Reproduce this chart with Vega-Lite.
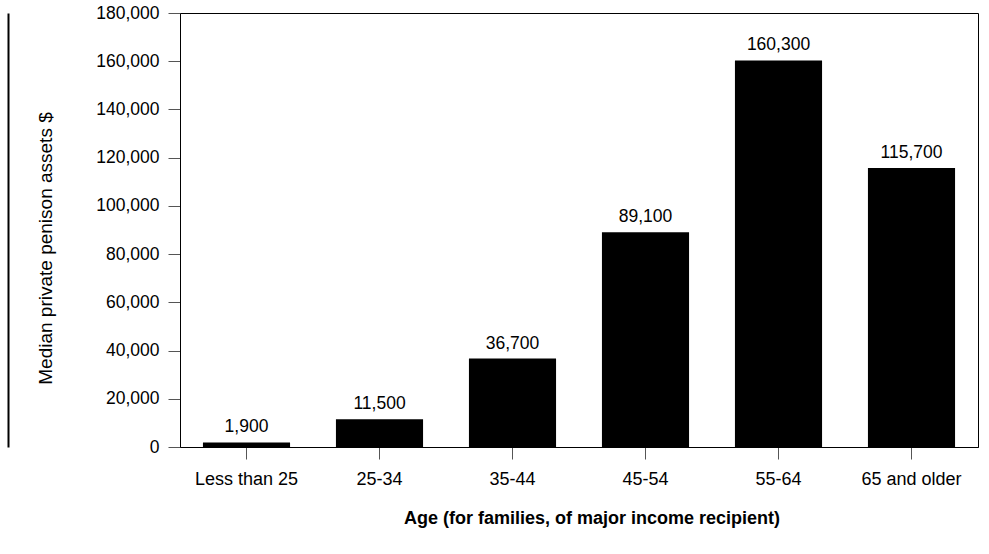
{
  "$schema": "https://vega.github.io/schema/vega-lite/v6.json",
  "width": 798,
  "height": 434,
  "autosize": {"type": "none"},
  "padding": {"left": 180, "top": 13, "right": 11, "bottom": 107},
  "background": "white",
  "config": {
    "font": "Liberation Sans",
    "view": {"stroke": "black", "strokeWidth": 1}
  },
  "data": {
    "values": [
      {"age": "Less than 25", "assets": 1900},
      {"age": "25-34", "assets": 11500},
      {"age": "35-44", "assets": 36700},
      {"age": "45-54", "assets": 89100},
      {"age": "55-64", "assets": 160300},
      {"age": "65 and older", "assets": 115700}
    ]
  },
  "encoding": {
    "x": {
      "field": "age",
      "type": "nominal",
      "sort": null,
      "scale": {"paddingInner": 0.345, "paddingOuter": 0.1725},
      "axis": {
        "title": "Age (for families, of major income recipient)",
        "titleFontSize": 18,
        "titleFontWeight": "bold",
        "titleColor": "black",
        "titleX": 411.5,
        "titleY": 76,
        "titleAlign": "center",
        "titleBaseline": "alphabetic",
        "labelAngle": 0,
        "labelFontSize": 18,
        "labelColor": "black",
        "labelBaseline": "alphabetic",
        "labelPadding": 25,
        "tickSize": 12,
        "tickColor": "#555555",
        "domainColor": "black",
        "grid": false
      }
    }
  },
  "layer": [
    {
      "mark": {"type": "bar", "color": "black"},
      "encoding": {
        "y": {
          "field": "assets",
          "type": "quantitative",
          "scale": {"domain": [0, 180000], "nice": false},
          "axis": {
            "orient": "left",
            "title": "Median private penison assets $",
            "titleFontSize": 19,
            "titleFontWeight": "normal",
            "titleColor": "black",
            "titleAngle": -90,
            "titleX": -129,
            "titleY": 235,
            "titleAlign": "center",
            "titleBaseline": "alphabetic",
            "values": [0, 20000, 40000, 60000, 80000, 100000, 120000, 140000, 160000, 180000],
            "format": ",d",
            "labelFontSize": 17.5,
            "labelColor": "black",
            "labelPadding": 9,
            "tickSize": 12,
            "tickColor": "#555555",
            "domainColor": "black",
            "grid": false
          }
        }
      }
    },
    {
      "mark": {"type": "text", "baseline": "alphabetic", "dy": -10, "fontSize": 17.5, "color": "black"},
      "encoding": {
        "y": {
          "field": "assets",
          "type": "quantitative",
          "scale": {"domain": [0, 180000], "nice": false},
          "axis": {
            "orient": "left",
            "offset": 172,
            "title": null,
            "labels": false,
            "ticks": false,
            "grid": false,
            "domainColor": "black",
            "domainWidth": 2
          }
        },
        "text": {"field": "assets", "format": ","}
      }
    }
  ],
  "resolve": {"axis": {"y": "independent"}}
}
